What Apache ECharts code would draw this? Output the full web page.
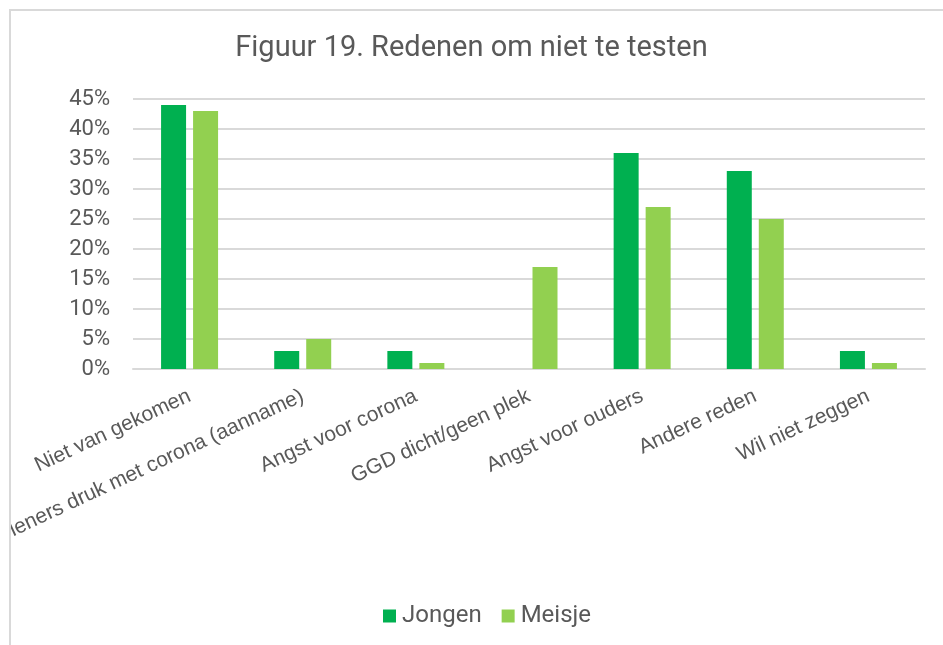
<!DOCTYPE html>
<html>
<head>
<meta charset="utf-8">
<script src="https://cdn.jsdelivr.net/npm/echarts@6/dist/echarts.min.js"></script>
<style>html,body{margin:0;padding:0;background:#fff}#c{width:943px;height:645px}</style>
</head>
<body>
<div id="c"></div>
<script>
var categories = ['Niet van gekomen', 'Zorgverleners druk met corona (aanname)', 'Angst voor corona', 'GGD dicht/geen plek', 'Angst voor ouders', 'Andere reden', 'Wil niet zeggen'];
var jongen = [44, 3, 3, 0, 36, 33, 3];
var meisje = [43, 5, 1, 17, 27, 25, 1];
var seriesNames = ['Jongen', 'Meisje'];
var chart = echarts.init(document.getElementById('c'));
var font = 'Roboto';
chart.setOption({
  animation: false,
  title: {
    text: 'Figuur 19. Redenen om niet te testen',
    left: 'center', top: 29,
    textStyle: {fontFamily: font, fontSize: 29, fontWeight: 'normal', color: '#595959'}
  },
  graphic: [
    {type: 'rect', z: 100, shape: {x: 0, y: 0, width: 9, height: 645}, style: {fill: '#fff'}, silent: true},
    {type: 'rect', z: 101, shape: {x: 10, y: 10, width: 1200, height: 1000}, style: {fill: 'none', stroke: '#d9d9d9', lineWidth: 2}, silent: true}
  ],
  legend: {
    bottom: 17, left: 383, padding: 0, itemWidth: 13, itemHeight: 13, itemGap: 20,
    icon: 'rect',
    textStyle: {fontFamily: font, fontSize: 24, color: '#595959', padding: [0, 0, 0, 1]},
    data: seriesNames
  },
  grid: {left: 133, right: 18, top: 99, bottom: 276, outerBoundsMode: 'none', containLabel: false},
  xAxis: {
    type: 'category', data: categories,
    axisLine: {lineStyle: {color: '#d9d9d9', width: 2}},
    axisTick: {show: false},
    axisLabel: {rotate: 25, interval: 0, margin: 26, fontFamily: 'Liberation Sans', fontSize: 21, color: '#595959'}
  },
  yAxis: {
    type: 'value', min: 0, max: 45, interval: 5,
    axisLabel: {formatter: '{value}%', margin: 23, fontFamily: font, fontSize: 22, color: '#595959'},
    splitLine: {lineStyle: {color: '#d9d9d9', width: 2}},
    axisLine: {show: false}, axisTick: {show: false}
  },
  series: [
    {name: seriesNames[0], type: 'bar', data: jongen, barWidth: 25, barGap: '28%', itemStyle: {color: '#00B050'}},
    {name: seriesNames[1], type: 'bar', data: meisje, barWidth: 25, barGap: '28%', itemStyle: {color: '#92D050'}}
  ]
});
</script>
</body>
</html>
